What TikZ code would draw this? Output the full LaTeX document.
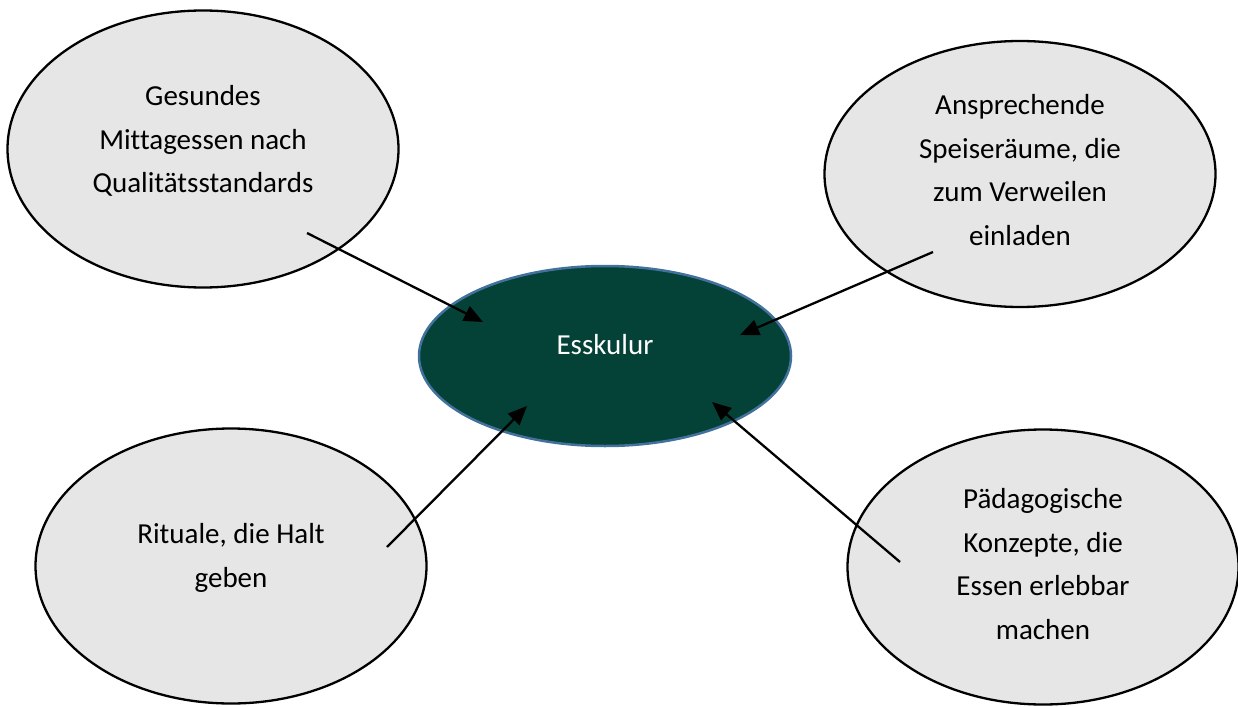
\documentclass[tikz,border=0pt]{standalone}
\usepackage{fontspec}
\setmainfont[Ligatures=NoCommon]{Carlito}
\usepackage{tikz}
\usetikzlibrary{shapes.geometric,arrows.meta}
\definecolor{esgreen}{RGB}{4,66,56}
\definecolor{esblue}{RGB}{65,113,156}
\definecolor{ballgray}{RGB}{231,230,230}

\begin{document}
\begin{tikzpicture}[x=1pt,y=-1pt,
  ball/.style={ellipse,draw=black,line width=2.3pt,fill=ballgray,minimum width=391pt,inner sep=0pt},
  txt/.style={align=center,font=\fontsize{29}{43.5}\selectfont},
  arr/.style={-{Triangle[length=19pt,width=16pt]},line width=2.3pt}]
\useasboundingbox (0,0) rectangle (1238,706);

% outer ellipses
\node [ball,minimum height=277pt] (gesund) at (203,149) {}; \node [txt,yshift=8pt] (gesundtxt) at (gesund) {Gesundes\\Mittagessen nach\\Qualitätsstandards};
\node [ball,minimum height=266pt] (raum) at (1020,174) {}; \node [txt,yshift=4pt] (raumtxt) at (raum) {Ansprechende\\Speiseräume, die\\zum Verweilen\\einladen};
\node [ball,minimum height=275pt] (ritual) at (231,566) {}; \node [txt,yshift=8pt] (ritualtxt) at (ritual) {Rituale, die Halt\\geben};
\node [ball,minimum height=275pt] (konzept) at (1043,567) {}; \node [txt,yshift=3pt] (konzepttxt) at (konzept) {Pädagogische\\Konzepte, die\\Essen erlebbar\\machen};

% centre
\node [ellipse,draw=esblue,line width=2.5pt,fill=esgreen,minimum width=372pt,minimum height=180pt,inner sep=0pt] (kultur) at (605,356) {};
\node [txt,text=white,yshift=11pt] (kulturtxt) at (kultur) {Esskulur};

\coordinate (s1) at (307,233); \coordinate (e1) at (483,322); \draw [arr] (s1) -- (e1);
\coordinate (s2) at (933,252); \coordinate (e2) at (740,335); \draw [arr] (s2) -- (e2);
\coordinate (s3) at (387,547); \coordinate (e3) at (527,406); \draw [arr] (s3) -- (e3);
\coordinate (s4) at (900,562); \coordinate (e4) at (712,402); \draw [arr] (s4) -- (e4);

\end{tikzpicture}
\end{document}
